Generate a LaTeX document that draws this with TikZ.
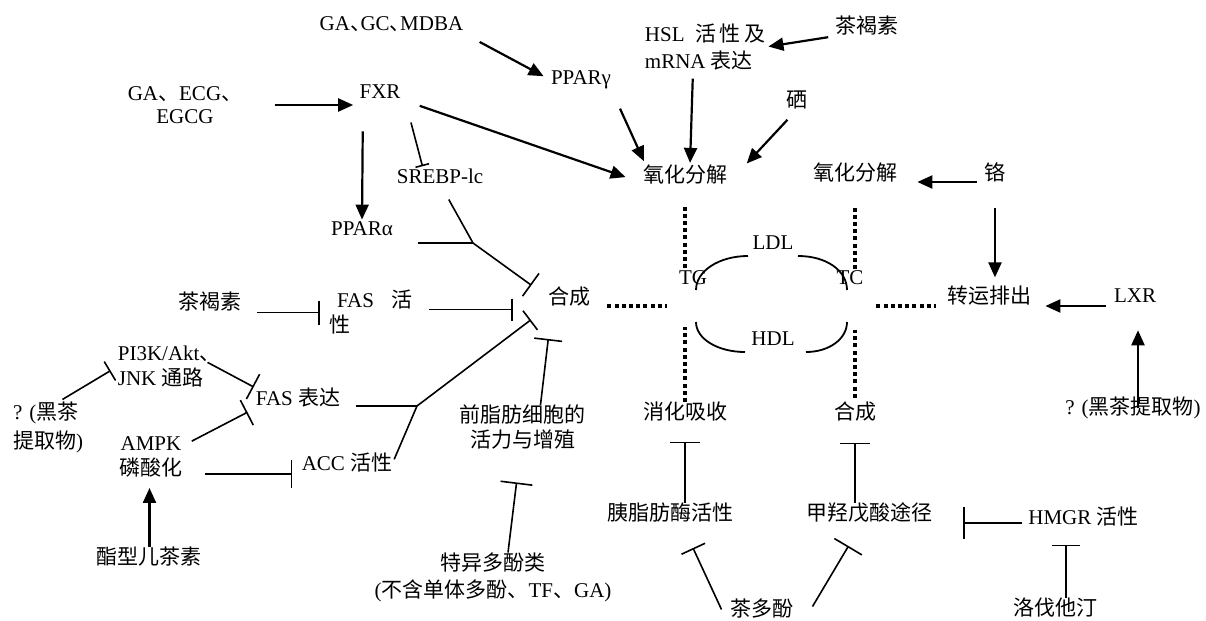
\documentclass[tikz,border=0pt]{standalone}
\usepackage{fontspec}
\setmainfont{Liberation Serif}
\newfontfamily\cjk{Noto Sans CJK SC}
\usetikzlibrary{arrows.meta,calc}
\newcommand{\zh}[1]{{\cjk #1}}
\newcommand{\dun}{\makebox[0.5em][l]{\cjk 、}}
\tikzset{
  lbl/.style={inner sep=0pt, align=center, font=\fontsize{10.5}{12.5}\selectfont},
  zhlbl/.style={lbl, font=\fontsize{10.5}{12.5}\selectfont\cjk},
  act/.style={-{Triangle[length=7.5pt,width=6.5pt]}, line width=1.1pt},
  inh/.style={-{Bar[width=#1]}, line width=0.8pt},
  inh/.default=14pt,
  link/.style={line width=0.8pt},
  dots/.style={line width=1.8pt, dash pattern=on 2pt off 1.6pt},
  lipo/.style={line width=0.9pt}
}
\begin{document}
\begin{tikzpicture}[x=0.5pt, y=-0.5pt]
  \useasboundingbox (0,0) rectangle (1206,621);

  % top row
  \node[lbl] (gagc) at (391.5,24) {GA\dun GC\dun MDBA};
  \node[lbl, font=\fontsize{10.5}{11.5}\selectfont] (gaecg) at (185,105) {GA\zh{、}ECG\zh{、}\\EGCG};
  \node[lbl] (fxr) at (380,92) {FXR};
  \node[lbl] (pparg) at (581,80) {PPARγ};
  \node[lbl, align=left, font=\fontsize{10.5}{13.5}\selectfont] (hsl) at (705,47) {HSL\enspace\zh{活\thinspace 性\thinspace 及}\\mRNA \zh{表达}};
  \node[zhlbl] (chahe1) at (867,26) {茶褐素};
  \node[zhlbl] (se) at (797,100) {硒};
  \node[zhlbl] (oxl) at (685,175) {氧化分解};
  \node[zhlbl] (oxr) at (855,173) {氧化分解};
  \node[zhlbl] (ge) at (995,172) {铬};
  \node[lbl] (srebp) at (440,176) {SREBP-lc};
  \node[lbl] (ppara) at (362,229) {PPARα};

  % middle row
  \node[zhlbl] (chahe2) at (210,302) {茶褐素};
  \node[lbl, align=left] (fasact) at (371,312.5) {\hspace*{4pt}FAS\hspace{9pt}\zh{活}\\\zh{性}};
  \node[zhlbl] (synl) at (569,297) {合成};
  \node[lbl] (tg) at (693,278) {TG};
  \node[lbl] (tc) at (850,278) {TC};
  \node[lbl] (ldl) at (773,243) {LDL};
  \node[lbl] (hdl) at (773,339) {HDL};
  \node[zhlbl] (transp) at (989,296) {转运排出};
  \node[lbl] (lxr) at (1135,296) {LXR};
  \node[lbl] (blackr) at (1133,408) {? (\zh{黑茶提取物})};

  % left block
  \node[lbl, align=left] (pi3k) at (160.75,366.5) {PI3K/Akt\rlap{\zh{、}}\\JNK \zh{通路}};
  \node[lbl, align=left, font=\fontsize{10.5}{14.5}\selectfont] (blackl) at (48,427.5) {? (\zh{黑茶}\\\zh{提取物})};
  \node[lbl] (fasexp) at (298,398) {FAS \zh{表达}};
  \node[lbl] (ampk) at (151,456.75) {AMPK\\\zh{磷酸化}};
  \node[lbl] (acc) at (347,463) {ACC \zh{活性}};
  \node[zhlbl] (ester) at (149.5,557) {酯型儿茶素};
  \node[zhlbl] (preadip) at (522.5,427.5) {前脂肪细胞的\\活力与增殖};
  \node[lbl, font=\fontsize{10.5}{13.5}\selectfont] (poly) at (493,577.5) {\zh{特异多酚类}\\(\zh{不含单体多酚、}TF\zh{、}GA)};

  % bottom row
  \node[zhlbl] (digest) at (685,412) {消化吸收};
  \node[zhlbl] (synr) at (855,412) {合成};
  \node[zhlbl] (lipase) at (670,513) {胰脂肪酶活性};
  \node[zhlbl] (mva) at (869.5,513) {甲羟戊酸途径};
  \node[lbl] (hmgr) at (1083.5,517) {HMGR \zh{活性}};
  \node[zhlbl] (lova) at (1055,608) {洛伐他汀};
  \node[zhlbl] (teapoly) at (761.5,608.5) {茶多酚};

  \coordinate (j1) at (473,243);
  \coordinate (j2) at (417,406);

  % activation
  \draw[act, shorten <=16pt, shorten >=3pt] (gaecg.east) -- (gaecg.east -| fxr.west);
  \draw[act, shorten <=16pt, shorten >=1pt] ([xshift=-8.5pt]fxr.south) -- (ppara.north);
  \draw[act, shorten <=10pt, shorten >=9pt] (fxr.south east) -- ([yshift=-4pt]oxl.west);
  \draw[act, shorten >=4pt] ([xshift=8pt,yshift=-5pt]gagc.south east) -- (pparg.west);
  \draw[act, shorten <=4pt, shorten >=1pt] ([xshift=-6pt]hsl.south) -- ([xshift=2.5pt]oxl.north);
  \draw[act, shorten <=3.5pt, shorten >=1.5pt] (chahe1.south west) -- (hsl.east);
  \draw[act, shorten <=10.5pt, shorten >=2pt] (pparg.south east) -- ([xshift=1.5pt]oxl.north west);
  \draw[act, shorten <=7pt, shorten >=1pt] (se.south) -- ([xshift=9pt]oxl.north east);
  \draw[act, shorten <=3.75pt, shorten >=10pt] ([yshift=-5pt]ge.west) -- ([yshift=-5pt]ge.west -| oxr.east);
  \draw[act, shorten <=12.75pt, shorten >=4.25pt] (ge.south) -- (ge.south |- transp.north);
  \draw[act, shorten <=4pt, shorten >=7pt] ([yshift=-5pt]lxr.west) -- ([yshift=-5pt]lxr.west -| transp.east);
  \draw[act, shorten >=13.5pt] ([xshift=2.5pt]blackr.center) -- ([xshift=1.5pt]lxr.south);
  \draw[act, shorten >=5.25pt] (ester.north) -- (ester.north |- ampk.south);

  % lipid cross
  \draw[dots, shorten <=10.75pt] (oxl.south) -- (oxl.south |- tg.north);
  \draw[dots, shorten >=21pt] (digest.north) -- (digest.north |- tg.south);
  \draw[dots, shorten <=8.5pt, shorten >=6pt] ([yshift=-4.5pt]synl.east) -- ([yshift=-4.5pt]synl.east -| tg.west);
  \draw[dots, shorten <=12.25pt] (oxr.south) -- (oxr.south |- tc.north);
  \draw[dots, shorten <=2pt, shorten >=22.5pt] (synr.north) -- (synr.north |- tc.south);
  \draw[dots, shorten <=6.25pt, shorten >=5.5pt] ([yshift=-5pt]transp.west -| tc.east) -- ([yshift=-5pt]transp.west);
  \draw[lipo] ($(tg)+(3,12)$) .. controls +(0,-19) and +(-29,0) .. ($(ldl)+(-25,13)$);
  \draw[lipo] ($(ldl)+(25,13)$) .. controls +(29,0) and +(0,-19) .. ($(tc)+(-3,12)$);
  \draw[lipo] ($(tg)+(3,44)$) .. controls +(0,17) and +(-27,0) .. ($(hdl)+(-28,13)$);
  \draw[lipo] ($(hdl)+(33,13)$) .. controls +(23,0) and +(0,17) .. ($(tc)+(-3,44)$);

  % inhibition of synthesis
  \draw[inh=7pt, shorten <=12pt, shorten >=1pt] ([xshift=2pt]fxr.south east) -- ([xshift=-8.5pt]srebp.north);
  \draw[link, shorten <=9pt] (srebp.south) -- (j1);
  \draw[link, shorten <=12.25pt] (ppara.east |- j1) -- (j1);
  \draw[inh, shorten >=10pt] (j1) -- (synl.west);
  \draw[inh=12pt, shorten <=7.75pt, shorten >=4.5pt] (fasact.west -| chahe2.east) -- (fasact.west);
  \draw[inh=11pt, shorten <=7.75pt, shorten >=17.5pt] ([yshift=1.5pt]fasact.east) -- ([yshift=1.5pt]fasact.east -| synl.west);
  \draw[link, shorten <=7.5pt] (fasexp.east |- j2) -- (j2);
  \draw[link, shorten <=2pt] (acc.east) -- (j2);
  \draw[inh=12pt, shorten >=10.5pt] (j2) -- (synl.south west);
  \draw[inh, shorten >=16pt] ([xshift=9pt]preadip.north) -- ([xshift=-8.5pt]synl.south);
  \draw[inh=16pt, shorten >=16.25pt] ([xshift=7.5pt]poly.north) -- ([xshift=-1pt]preadip.south);
  \draw[inh=11pt, shorten <=2pt, shorten >=4pt] ([xshift=5.5pt]blackl.north) -- (pi3k.west);
  \draw[inh, shorten <=2pt, shorten >=1pt] ([yshift=3pt]pi3k.east) -- (fasexp.north west);
  \draw[inh, shorten <=5pt, shorten >=4.5pt] ([yshift=5.5pt]ampk.east) -- (fasexp.south west);
  \draw[inh, shorten <=11pt, shorten >=4.5pt] ([yshift=-8.5pt]ampk.east) -- ([yshift=-8.5pt]ampk.east -| acc.west);

  % inhibition at the bottom
  \draw[inh=15pt, shorten >=9.75pt] (lipase.north -| digest.south) -- (digest.south);
  \draw[inh=15pt, shorten >=10.25pt] (mva.north -| synr.south) -- (synr.south);
  \draw[inh=16pt, shorten <=2.75pt, shorten >=15.25pt] ([yshift=-3pt]hmgr.west) -- ([yshift=-3pt]hmgr.west -| mva.east);
  \draw[inh, shorten >=8.75pt] ([xshift=5.5pt]lova.north) -- ([xshift=5.5pt]lova.north |- hmgr.south);
  \draw[inh=13pt] ($(teapoly)+(-40,1)$) -- ($(lipase)+(23,35)$);
  \draw[inh=16pt] ($(teapoly)+(51,-2)$) -- ($(mva)+(-21,33)$);
\end{tikzpicture}
\end{document}
